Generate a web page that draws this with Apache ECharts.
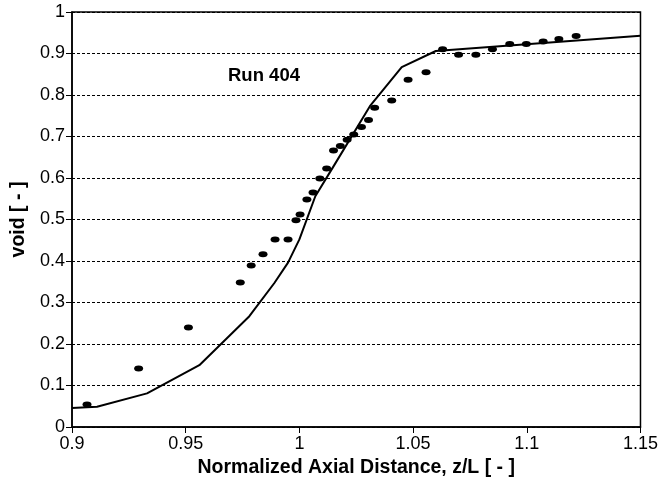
<!DOCTYPE html>
<html>
<head>
<meta charset="utf-8">
<script src="https://cdn.jsdelivr.net/npm/echarts@6/dist/echarts.min.js"></script>
<style>html,body{margin:0;padding:0;background:#fff;}#c{width:661px;height:483px;}</style>
</head>
<body>
<div id="c"></div>
<script>
// Measured void fraction (points)
const measX = [0.9066,0.9293,0.9512,0.974,0.9788,0.984,0.9893,0.995,0.9985,1.0003,1.0033,1.006,1.009,1.012,1.015,1.018,1.021,1.0239,1.0273,1.0304,1.0331,1.0406,1.0478,1.0557,1.063,1.070,1.0776,1.0849,1.0925,1.0998,1.1072,1.1141,1.1217];
const measY = [0.054,0.141,0.240,0.348,0.389,0.416,0.452,0.452,0.498,0.512,0.548,0.565,0.599,0.623,0.666,0.677,0.692,0.705,0.723,0.740,0.769,0.787,0.837,0.855,0.910,0.897,0.897,0.910,0.923,0.923,0.929,0.935,0.942];
// Predicted void fraction (line)
const predX = [0.9,0.911,0.933,0.956,0.978,0.989,0.995,1.0,1.007,1.015,1.031,1.045,1.06,1.15];
const predY = [0.046,0.049,0.081,0.149,0.267,0.347,0.396,0.452,0.556,0.628,0.773,0.867,0.906,0.943];
const runLabel = 'Run 404';
const xTitle = 'Normalized Axial Distance, z/L [ - ]';
const yTitle = 'void [ - ]';

const FONT = 'Liberation Sans, Arial, Helvetica, sans-serif';
const chart = echarts.init(document.getElementById('c'), null, {renderer: 'canvas'});
chart.setOption({
  animation: false,
  backgroundColor: '#fff',
  grid: {left: 72, right: 19, top: 12, bottom: 56, show: true, borderColor: '#000', borderWidth: 1.5, backgroundColor: 'transparent'},
  xAxis: {
    type: 'value', min: 0.9, max: 1.15, interval: 0.05,
    name: xTitle, nameLocation: 'middle', nameGap: 29,
    nameTextStyle: {fontFamily: FONT, fontSize: 19.5, fontWeight: 'bold', color: '#000'},
    axisLine: {show: true, onZero: false, lineStyle: {color: '#000', width: 1.5}},
    axisTick: {show: true, inside: false, length: 6, lineStyle: {color: '#000', width: 1}},
    axisLabel: {fontFamily: FONT, fontSize: 18, color: '#000', margin: 8},
    splitLine: {show: false}
  },
  yAxis: {
    type: 'value', min: 0, max: 1, interval: 0.1,
    name: yTitle, nameLocation: 'middle', nameGap: 42, nameRotate: 90,
    nameTextStyle: {fontFamily: FONT, fontSize: 19.5, fontWeight: 'bold', color: '#000'},
    axisLine: {show: true, onZero: false, lineStyle: {color: '#000', width: 1.5}},
    axisTick: {show: true, inside: false, length: 6, lineStyle: {color: '#000', width: 1}},
    axisLabel: {fontFamily: FONT, fontSize: 18, color: '#000', margin: 7},
    splitLine: {show: true, lineStyle: {color: '#000', width: 1, type: [3, 2]}}
  },
  graphic: [{
    type: 'text', left: 228, top: 66,
    style: {text: runLabel, font: 'bold 18.5px ' + FONT, fill: '#000'}
  }],
  series: [
    {
      type: 'line', data: predX.map((x, i) => [x, predY[i]]),
      showSymbol: false, symbol: 'none',
      lineStyle: {color: '#000', width: 2}, z: 3
    },
    {
      type: 'scatter', data: measX.map((x, i) => [x, measY[i]]),
      symbol: 'circle', symbolSize: [9, 6],
      itemStyle: {color: '#000', opacity: 1}, z: 4
    }
  ]
});
</script>
</body>
</html>
